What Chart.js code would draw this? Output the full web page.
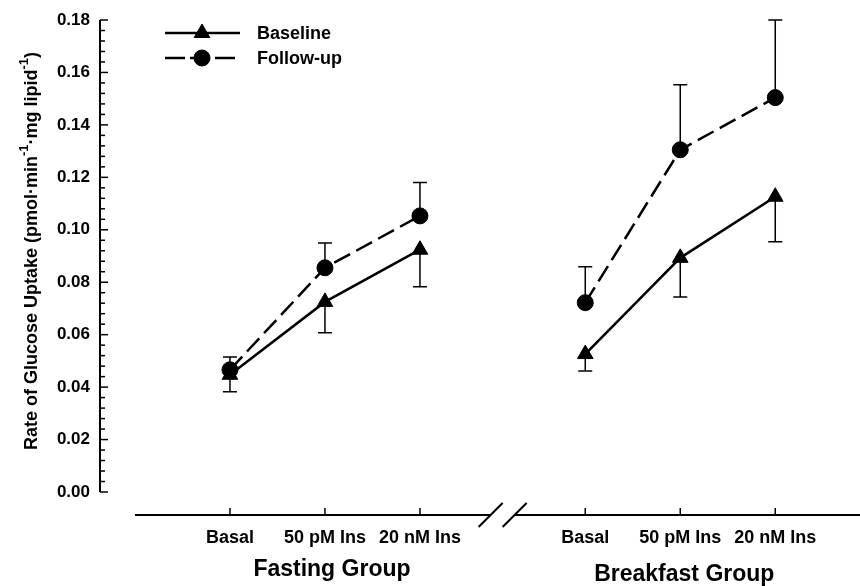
<!DOCTYPE html>
<html>
<head>
<meta charset="utf-8">
<script src="https://cdn.jsdelivr.net/npm/chart.js@4.4.0/dist/chart.umd.min.js"></script>
<style>
  html, body { margin: 0; padding: 0; background: #fff; overflow: hidden; }
  #wrap { width: 860px; height: 586px; }
  canvas { display: block; }
</style>
</head>
<body>
<div id="wrap"><canvas id="chartCanvas" width="860" height="586"></canvas></div>
<script>
// Data (fasting group first, then breakfast group)
const conditions = ['Basal', '50 pM Ins', '20 nM Ins'];
const groups = ['Fasting Group', 'Breakfast Group'];
const seriesNames = ['Baseline', 'Follow-up'];

const baselineMean = [0.0447, 0.0725, 0.0924, 0.0526, 0.0893, 0.1126];
const baselineSem  = [0.0065, 0.0118, 0.0141, 0.0065, 0.0149, 0.0172];
const followupMean = [0.0466, 0.0855, 0.1053, 0.0722, 0.1305, 0.1504];
const followupSem  = [0.0049, 0.0095, 0.0127, 0.0137, 0.0248, 0.0296];

const yTicks = [0, 0.02, 0.04, 0.06, 0.08, 0.10, 0.12, 0.14, 0.16, 0.18];
const xTickLabels = [...conditions, ...conditions];

const FONT = "'Liberation Sans', Arial, Helvetica, sans-serif";
const GROUP_SHIFT = 3.74;   // second group starts after the axis break

function xPos(i) {
  return (i % 3) + Math.floor(i / 3) * GROUP_SHIFT;
}

// build points, null in between so the groups are not joined
function toPoints(means) {
  const pts = [];
  means.forEach((v, i) => {
    if (i === 3) pts.push({ x: xPos(2) + 0.8, y: null });
    pts.push({ x: xPos(i), y: v });
  });
  return pts;
}

const canvas = document.getElementById('chartCanvas');
const ctx = canvas.getContext('2d');

function point(c, style, r, x, y) {
  c.save();
  c.fillStyle = '#000';
  c.strokeStyle = '#000';
  c.lineWidth = 1;
  c.setLineDash([]);
  Chart.helpers.drawPoint(c, { pointStyle: style, radius: r, rotation: 0, borderWidth: 1 }, x, y);
  c.restore();
}

// axes, break marks, error bars, legend and labels
const decorations = {
  id: 'decorations',
  beforeDatasetsDraw(chart) {
    const c = chart.ctx;
    const xs = chart.scales.x, ys = chart.scales.y;
    c.save();
    c.strokeStyle = '#000';
    c.lineWidth = 1.5;
    const cap = 7;
    const bars = [
      { mean: baselineMean, sem: baselineSem, dir: -1 },
      { mean: followupMean, sem: followupSem, dir: 1 }
    ];
    bars.forEach(b => {
      b.mean.forEach((m, i) => {
        const x = xs.getPixelForValue(xPos(i));
        const y0 = ys.getPixelForValue(m);
        const y1 = ys.getPixelForValue(m + b.dir * b.sem[i]);
        c.beginPath();
        c.moveTo(x, y0); c.lineTo(x, y1);
        c.moveTo(x - cap, y1); c.lineTo(x + cap, y1);
        c.stroke();
      });
    });
    c.restore();
  },
  afterDraw(chart) {
    const c = chart.ctx;
    const xs = chart.scales.x, ys = chart.scales.y;
    const area = chart.chartArea;
    c.save();
    c.strokeStyle = '#000';
    c.fillStyle = '#000';
    c.lineWidth = 2;

    // y axis with inward ticks
    const ax = area.left;
    c.beginPath();
    c.moveTo(ax, ys.getPixelForValue(0));
    c.lineTo(ax, ys.getPixelForValue(0.18));
    c.stroke();
    c.lineWidth = 1.5;
    for (let k = 0; k <= 45; k++) {
      const y = ys.getPixelForValue(k * 0.004);
      const len = k % 5 === 0 ? 8 : 5;
      c.beginPath();
      c.moveTo(ax, y); c.lineTo(ax + len, y);
      c.stroke();
    }

    // x axis with a break between the groups
    const yb = area.bottom;
    const breakMid = xs.getPixelForValue((xPos(2) + xPos(3)) / 2);
    c.lineWidth = 2;
    c.beginPath();
    c.moveTo(xs.getPixelForValue(-1), yb); c.lineTo(breakMid - 12, yb);
    c.moveTo(breakMid + 12, yb); c.lineTo(area.right, yb);
    c.stroke();
    [-12, 12].forEach(d => {
      c.beginPath();
      c.moveTo(breakMid + d - 12, yb + 12);
      c.lineTo(breakMid + d + 12, yb - 12);
      c.stroke();
    });
    c.lineWidth = 1.5;
    xTickLabels.forEach((_, i) => {
      const x = xs.getPixelForValue(xPos(i));
      c.beginPath();
      c.moveTo(x, yb); c.lineTo(x, yb - 7);
      c.stroke();
    });

    // group labels
    c.font = 'bold 23px ' + FONT;
    c.textAlign = 'center';
    c.textBaseline = 'middle';
    c.fillText(groups[0], xs.getPixelForValue(xPos(1)) + 7, 570);
    c.fillText(groups[1], xs.getPixelForValue(xPos(4)) + 4, 575);

    // y axis title with superscripts
    const parts = [
      ['Rate of Glucose Uptake (pmol\u00b7min', false],
      ['-1', true],
      ['\u00b7mg lipid', false],
      ['-1', true],
      [')', false]
    ];
    const mainFont = 'bold 18px ' + FONT;
    const supFont = 'bold 13px ' + FONT;
    let total = 0;
    parts.forEach(p => { c.font = p[1] ? supFont : mainFont; total += c.measureText(p[0]).width; });
    c.save();
    c.translate(37, 251);
    c.rotate(-Math.PI / 2);
    c.textAlign = 'left';
    c.textBaseline = 'alphabetic';
    let tx = -total / 2;
    parts.forEach(p => {
      c.font = p[1] ? supFont : mainFont;
      c.fillText(p[0], tx, p[1] ? -9 : 0);
      tx += c.measureText(p[0]).width;
    });
    c.restore();

    // legend
    const rows = [
      { y: 33, dash: [], style: 'triangle', r: 9 },
      { y: 58, dash: [20, 5], style: 'circle', r: 8 }
    ];
    rows.forEach((row, i) => {
      c.lineWidth = 2.5;
      c.setLineDash(row.dash);
      c.beginPath();
      c.moveTo(165, row.y); c.lineTo(240, row.y);
      c.stroke();
      c.setLineDash([]);
      point(c, row.style, row.r, 202, row.y);
      c.font = 'bold 18px ' + FONT;
      c.textAlign = 'left';
      c.textBaseline = 'middle';
      c.fillText(seriesNames[i], 257, row.y + 1);
    });
    c.restore();
  }
};

const chart = new Chart(ctx, {
  type: 'line',
  data: {
    datasets: [
      {
        label: seriesNames[0],
        data: toPoints(baselineMean),
        borderColor: '#000',
        borderWidth: 2.5,
        pointStyle: 'triangle',
        pointRadius: 9,
        pointBackgroundColor: '#000',
        pointBorderColor: '#000',
        pointBorderWidth: 1,
        spanGaps: false,
        clip: false
      },
      {
        label: seriesNames[1],
        data: toPoints(followupMean),
        borderColor: '#000',
        borderWidth: 2.5,
        borderDash: [18, 7],
        pointStyle: 'circle',
        pointRadius: 8,
        pointBackgroundColor: '#000',
        pointBorderColor: '#000',
        pointBorderWidth: 1,
        spanGaps: false,
        clip: false
      }
    ]
  },
  options: {
    responsive: false,
    animation: false,
    layout: { autoPadding: false, padding: { top: 20, left: 0, right: 0, bottom: 0 } },
    plugins: { legend: { display: false }, tooltip: { enabled: false } },
    scales: {
      x: {
        type: 'linear',
        min: -1.368,
        max: 6.632,
        grid: { display: false, drawTicks: false },
        border: { display: false },
        afterBuildTicks: s => { s.ticks = xTickLabels.map((_, i) => ({ value: xPos(i) })); },
        afterFit: s => { s.height = 71; s.paddingLeft = 0; s.paddingRight = 0; },
        ticks: {
          autoSkip: false,
          maxRotation: 0,
          padding: 12,
          color: '#000',
          font: { family: FONT, size: 18, weight: 'bold' },
          callback: (v, i) => xTickLabels[i]
        }
      },
      y: {
        min: -0.00877,
        max: 0.18,
        grid: { display: false, drawTicks: false },
        border: { display: false },
        afterBuildTicks: s => { s.ticks = yTicks.map(v => ({ value: v })); },
        afterFit: s => { s.width = 100; s.paddingTop = 0; s.paddingBottom = 0; },
        ticks: {
          padding: 10,
          color: '#000',
          font: { family: FONT, size: 17, weight: 'bold' },
          callback: v => v.toFixed(2)
        }
      }
    }
  },
  plugins: [decorations]
});
</script>
</body>
</html>
